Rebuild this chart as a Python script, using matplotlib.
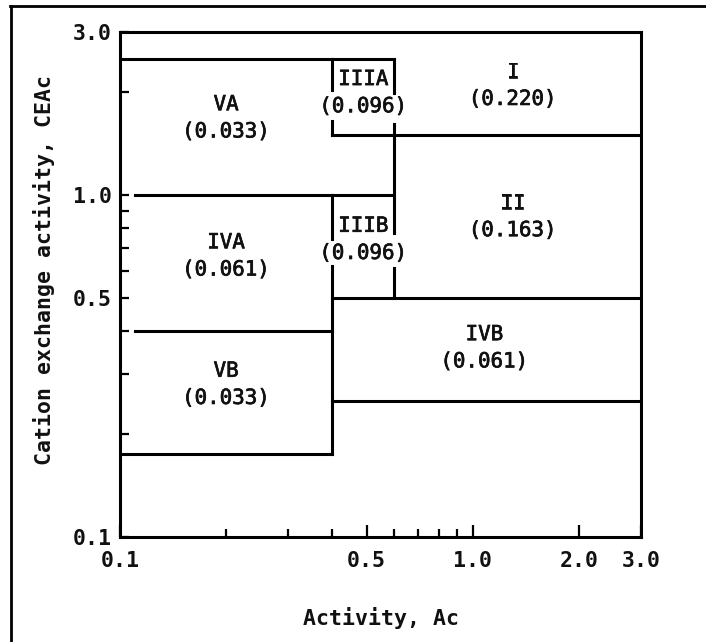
import matplotlib
matplotlib.use("Agg")
import matplotlib.pyplot as plt
from matplotlib.lines import Line2D
import matplotlib.patheffects as pe
from matplotlib.ticker import FixedLocator, FixedFormatter, NullFormatter

# ---- data: region boundaries (Activity Ac on x, CEAc on y) ----
h_y  = [2.5, 1.5, 1.0, 0.5, 0.4, 0.25, 0.175]
h_x0 = [0.1, 0.4, 0.11, 0.4, 0.11, 0.4, 0.1]
h_x1 = [0.6, 3.0, 0.6, 3.0, 0.4, 3.0, 0.4]

v_x  = [0.4, 0.4, 0.4, 0.4, 0.6, 0.6, 0.6]
v_y0 = [2.5, 1.64, 1.0, 0.622, 2.5, 1.61, 0.613]
v_y1 = [2.03, 1.5, 0.745, 0.175, 1.99, 0.776, 0.5]

region_names  = ["I", "II", "IIIA", "IIIB", "IVA", "IVB", "VA", "VB"]
region_values = ["0.220", "0.163", "0.096", "0.096", "0.061", "0.061", "0.033", "0.033"]
label_x = [1.3, 1.3, 0.49, 0.49, 0.2, 1.08, 0.2, 0.2]
label_y = [2.09, 0.865, 1.99, 0.742, 0.664, 0.358, 1.68, 0.28]

x_major = [0.1, 0.5, 1.0, 2.0, 3.0]
x_major_labels = ["0.1", "0.5", "1.0", "2.0", "3.0"]
x_minor = [0.2, 0.3, 0.4, 0.6, 0.7, 0.8, 0.9]
y_major = [0.1, 0.5, 1.0, 3.0]
y_major_labels = ["0.1", "0.5", "1.0", "3.0"]
y_minor = [0.2, 0.3, 0.4, 0.6, 0.7, 0.8, 0.9, 2.0]

FONT = "DejaVu Sans Mono"
LW = 2.2

fig = plt.figure(figsize=(7.06, 6.42), dpi=100)
ax = fig.add_axes([0.170, 0.1628, 0.738, 0.788])
ax.set_xscale("log")
ax.set_yscale("log")
ax.set_xlim(0.1, 3.0)
ax.set_ylim(0.1, 3.0)

for y, x0, x1 in zip(h_y, h_x0, h_x1):
    ax.plot([x0, x1], [y, y], color="black", lw=LW, solid_capstyle="projecting")
for x, y0, y1 in zip(v_x, v_y0, v_y1):
    ax.plot([x, x], [y0, y1], color="black", lw=LW, solid_capstyle="projecting")

for name, val, lx, ly in zip(region_names, region_values, label_x, label_y):
    ax.text(lx, ly, f"{name}\n({val})", ha="center", va="center",
            fontsize=15, family=FONT, linespacing=1.45, color="#111111",
            path_effects=[pe.withStroke(linewidth=0.5, foreground="#111111")])

for s in ax.spines.values():
    s.set_linewidth(LW)

ax.xaxis.set_major_locator(FixedLocator(x_major))
ax.xaxis.set_major_formatter(FixedFormatter(x_major_labels))
ax.xaxis.set_minor_locator(FixedLocator(x_minor))
ax.xaxis.set_minor_formatter(NullFormatter())
ax.yaxis.set_major_locator(FixedLocator(y_major))
ax.yaxis.set_major_formatter(FixedFormatter(y_major_labels))
ax.yaxis.set_minor_locator(FixedLocator(y_minor))
ax.yaxis.set_minor_formatter(NullFormatter())

ax.tick_params(axis="x", which="major", direction="in", length=9, width=1.6, pad=10)
ax.tick_params(axis="x", which="minor", direction="in", length=6, width=1.6)
ax.tick_params(axis="y", which="major", direction="in", length=6.5, width=1.6, pad=6)
ax.tick_params(axis="y", which="minor", direction="in", length=6.5, width=1.6)
for lab in ax.get_xticklabels() + ax.get_yticklabels():
    lab.set_fontfamily(FONT)
    lab.set_fontweight("bold")
    lab.set_fontsize(15.5)
    lab.set_color("#111111")

ax.set_xlabel("Activity, Ac", fontsize=15.5, fontweight="bold", family=FONT, color="#111111")
ax.set_ylabel("Cation exchange activity, CEAc", fontsize=15.5, fontweight="bold", family=FONT, color="#111111")
ax.xaxis.set_label_coords(0.5, -0.137)
ax.yaxis.set_label_coords(-0.125, 0.528)

# outer frame of the scanned figure
fig.add_artist(Line2D([10 / 706, 1.0], [1 - 6 / 642, 1 - 6 / 642], transform=fig.transFigure,
                      color="black", lw=2.0))
fig.add_artist(Line2D([11 / 706, 11 / 706], [0.0, 1 - 6 / 642], transform=fig.transFigure,
                      color="black", lw=2.0))

fig.savefig("out.png", dpi=100)
